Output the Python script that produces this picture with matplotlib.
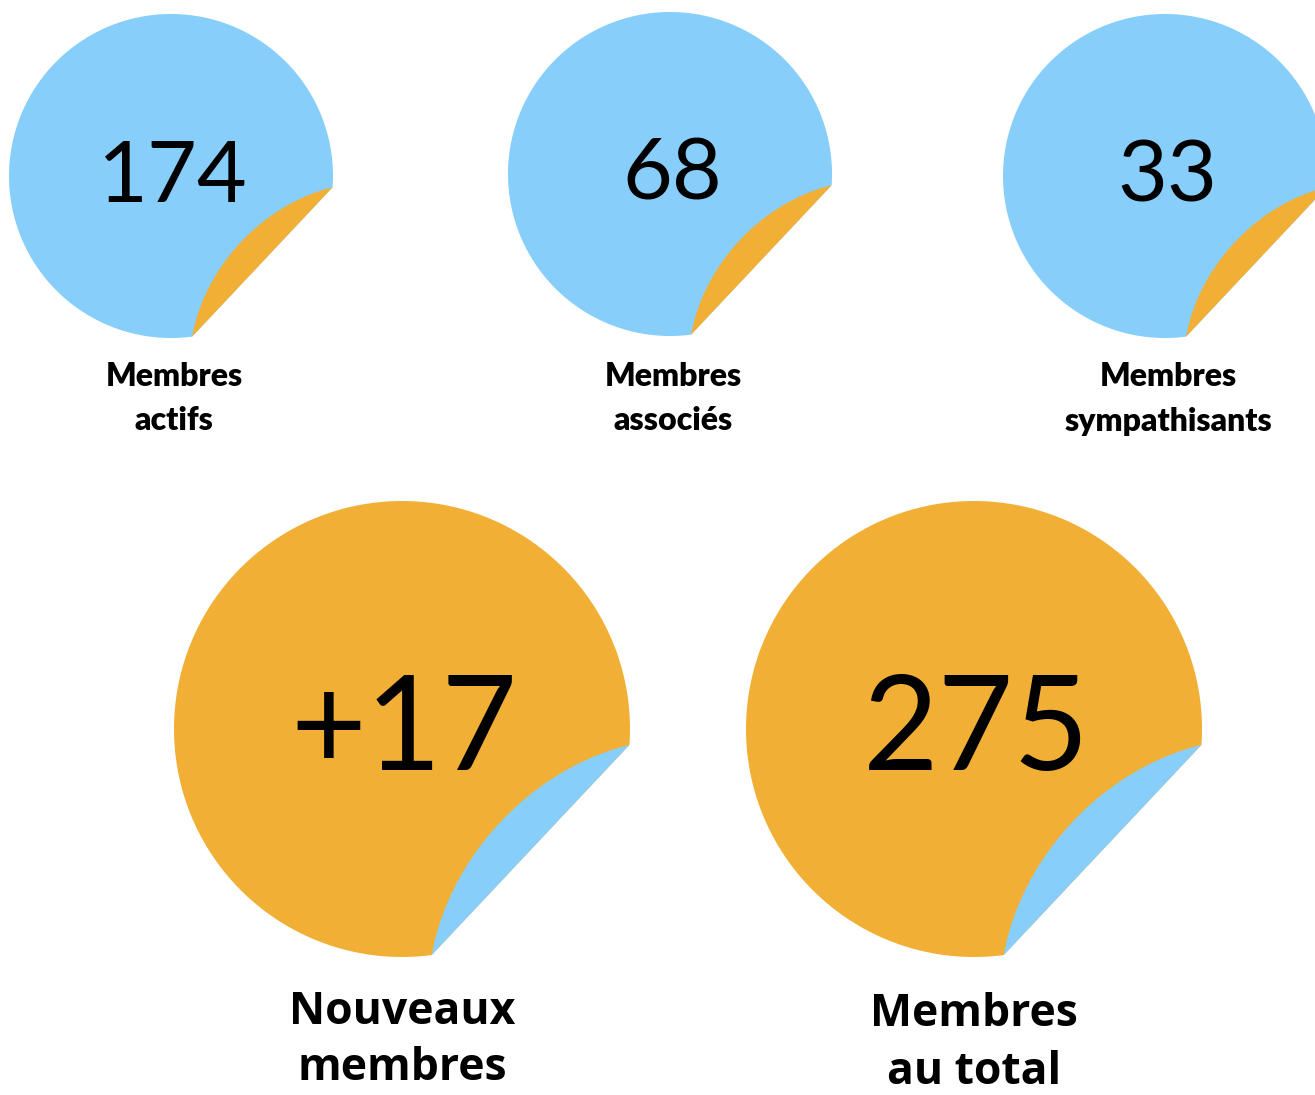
import matplotlib.pyplot as plt
import numpy as np
from matplotlib.patches import Polygon

BLUE = "#88cefa"
ORANGE = "#f1b035"

# sticker data
values = ["174", "68", "33", "+17", "275"]
labels = ["Membres\nactifs", "Membres\nassociés", "Membres\nsympathisants",
          "Nouveaux\nmembres", "Membres\nau total"]
face_colors = [BLUE, BLUE, BLUE, ORANGE, ORANGE]
back_colors = [ORANGE, ORANGE, ORANGE, BLUE, BLUE]
centers_x = [171, 670, 1165, 402, 974]
centers_y = [176, 174, 176, 729, 729]
radii = [162, 162, 162, 228, 228]

ANG_A = np.deg2rad(-4.0)
ANG_B = np.deg2rad(-82.5)


def pt(cx, cy, r, a):
    return cx + r * np.cos(a), cy - r * np.sin(a)


def draw_sticker(ax, cx, cy, r, face, back):
    # body: circle with the lower right corner cut off along chord A-B
    angs = np.linspace(ANG_A, 2 * np.pi + ANG_B, 300)
    body = np.column_stack(pt(cx, cy, r, angs))
    ax.add_patch(Polygon(body, closed=True, facecolor=face, edgecolor="none"))

    # curl: the cut-off segment folded back over the chord
    ax_, ay_ = pt(cx, cy, r, ANG_A)
    bx_, by_ = pt(cx, cy, r, ANG_B)
    seg_angs = np.linspace(ANG_B, ANG_A, 120)
    sx, sy = pt(cx, cy, r, seg_angs)
    d = np.array([bx_ - ax_, by_ - ay_])
    d /= np.linalg.norm(d)
    n = np.array([-d[1], d[0]])
    rel = np.column_stack([sx - ax_, sy - ay_])
    dist = rel @ n
    refl = np.column_stack([sx, sy]) - 2 * np.outer(dist, n) * 0.9
    ax.add_patch(Polygon(refl, closed=True, facecolor=back, edgecolor="none"))


fig = plt.figure(figsize=(13.15, 10.95), dpi=100)
ax = fig.add_axes([0, 0, 1, 1])
ax.set_xlim(0, 1315)
ax.set_ylim(1095, 0)
ax.set_aspect("equal")
ax.axis("off")

for i in range(5):
    cx, cy, r = centers_x[i], centers_y[i], radii[i]
    draw_sticker(ax, cx, cy, r, face_colors[i], back_colors[i])
    big = r > 200
    ax.text(cx + 2, cy + 4 if big else cy + 2, values[i],
            ha="center", va="center", color="black",
            fontsize=94 if big else 62, family="Lato", fontweight="normal")
    line1, line2 = labels[i].split("\n")
    if big:
        y1 = 1012 if i == 3 else 1015
        ax.text(cx, y1, line1, ha="center", va="center", fontsize=32,
                family="Open Sans", fontweight="bold")
        ax.text(cx, y1 + 57, line2, ha="center", va="center", fontsize=32,
                family="Open Sans", fontweight="bold")
    else:
        ax.text(cx + 3, 377, line1, ha="center", va="center", fontsize=23,
                family="Lato", fontweight="heavy")
        ax.text(cx + 3, 421, line2, ha="center", va="center", fontsize=23,
                family="Lato", fontweight="heavy")

fig.savefig("out.png", dpi=100)
